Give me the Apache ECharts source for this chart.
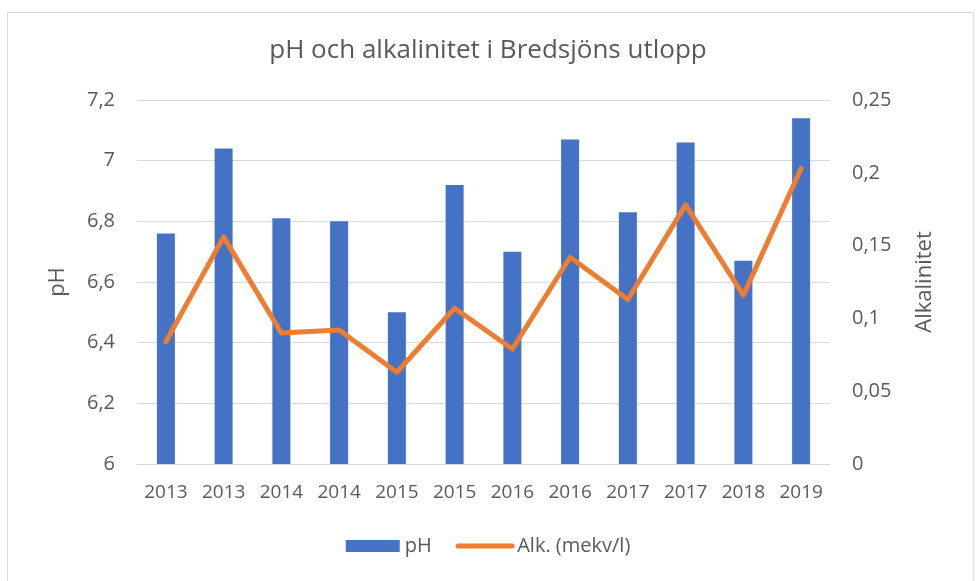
<!DOCTYPE html>
<html>
<head>
<meta charset="utf-8">
<script src="https://cdn.jsdelivr.net/npm/echarts@6/dist/echarts.min.js"></script>
<style>
  html, body { margin: 0; padding: 0; background: #fff; }
  #chart { width: 976px; height: 581px; }
</style>
</head>
<body>
<div id="chart"></div>
<script>
// data
var categories = ['2013', '2013', '2014', '2014', '2015', '2015', '2016', '2016', '2017', '2017', '2018', '2019'];
var phValues = [6.76, 7.04, 6.81, 6.80, 6.50, 6.92, 6.70, 7.07, 6.83, 7.06, 6.67, 7.14];
var alkValues = [0.084, 0.156, 0.090, 0.092, 0.063, 0.107, 0.079, 0.142, 0.113, 0.178, 0.116, 0.203];

var textColor = '#595959';
var font = 'Open Sans';

var chart = echarts.init(document.getElementById('chart'));

function commaFmt(v) {
    return String(v).replace('.', ',');
}

var option = {
    backgroundColor: '#fff',
    animation: false,
    textStyle: { fontFamily: font },
    graphic: [{
        type: 'rect',
        left: 5, top: 10,
        shape: { width: 966, height: 580 },
        style: { fill: 'none', stroke: '#d9d9d9', lineWidth: 1 }
    }],
    title: {
        text: 'pH och alkalinitet i Bredsjöns utlopp',
        left: 'center',
        top: 33,
        textStyle: { color: textColor, fontSize: 26, fontWeight: 'normal', fontFamily: font }
    },
    legend: {
        bottom: 20,
        left: 'center',
        itemGap: 24,
        itemWidth: 54,
        itemHeight: 12,
        textStyle: { color: textColor, fontSize: 20, fontFamily: font },
        data: [
            { name: 'pH', icon: 'rect' },
            { name: 'Alk. (mekv/l)', itemStyle: { opacity: 0 }, lineStyle: { width: 5, cap: 'round' } }
        ]
    },
    grid: { left: 137, right: 146, top: 100, bottom: 117 },
    xAxis: {
        type: 'category',
        data: categories,
        axisTick: { show: false },
        axisLine: { lineStyle: { color: '#d9d9d9' } },
        axisLabel: { color: textColor, fontSize: 19, margin: 19, interval: 0 }
    },
    yAxis: [{
        type: 'value',
        min: 6, max: 7.2, interval: 0.2,
        name: 'pH',
        nameLocation: 'middle',
        nameGap: 68,
        nameTextStyle: { color: textColor, fontSize: 22 },
        axisLine: { show: false },
        axisTick: { show: false },
        axisLabel: { color: textColor, fontSize: 20, margin: 22, formatter: function (v) { return commaFmt(Math.round(v * 10) / 10); } },
        splitLine: { lineStyle: { color: '#d9d9d9', width: 1 } }
    }, {
        type: 'value',
        min: 0, max: 0.25, interval: 0.05,
        name: 'Alkalinitet',
        nameLocation: 'middle',
        nameGap: 84,
        nameRotate: 90,
        nameTextStyle: { color: textColor, fontSize: 22 },
        axisLine: { show: false },
        axisTick: { show: false },
        axisLabel: { color: textColor, fontSize: 20, margin: 22, formatter: function (v) { return commaFmt(Math.round(v * 100) / 100); } },
        splitLine: { show: false }
    }],
    series: [{
        name: 'pH',
        type: 'bar',
        data: phValues,
        barWidth: 18,
        itemStyle: { color: '#4472c4' }
    }, {
        name: 'Alk. (mekv/l)',
        type: 'line',
        yAxisIndex: 1,
        data: alkValues,
        symbol: 'none',
        lineStyle: { color: '#ed7d31', width: 5, cap: 'round', join: 'round' },
        itemStyle: { color: '#ed7d31' }
    }]
};
chart.setOption(option);
</script>
</body>
</html>
